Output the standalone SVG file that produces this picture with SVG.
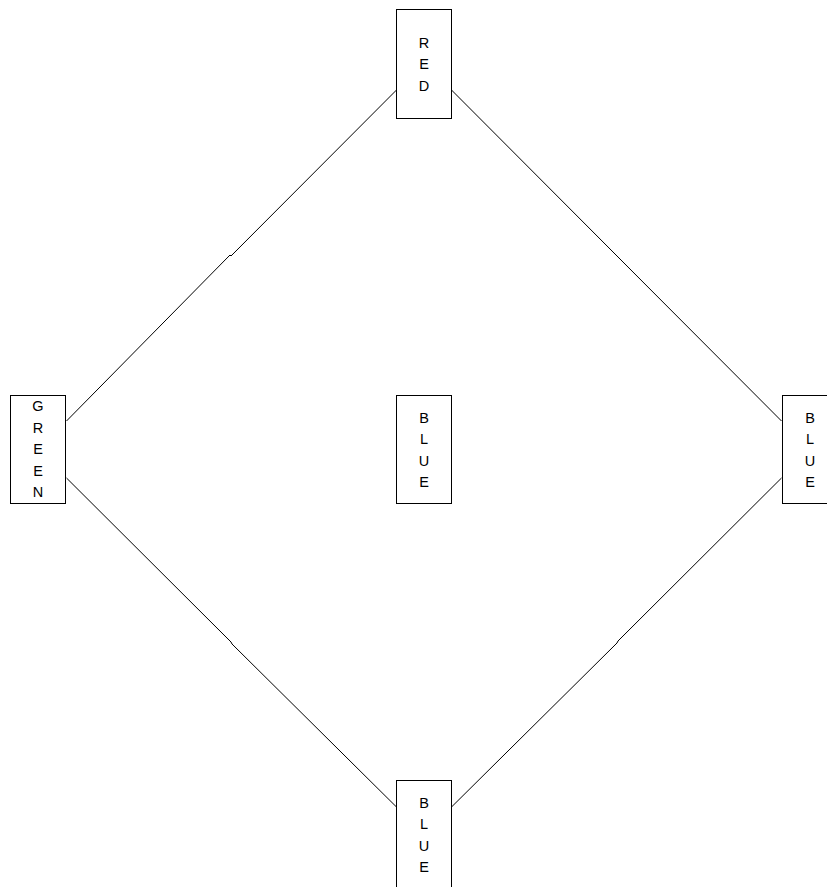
<svg xmlns="http://www.w3.org/2000/svg" width="827" height="887" viewBox="0 0 827 887">
<style>
.box{fill:#fff;stroke:#000;stroke-width:1}
.lbl{font-family:"Liberation Sans",Arial,sans-serif;font-size:14.5px;fill:#000;text-anchor:middle}
.edge{fill:none;stroke:#000;stroke-width:1}
</style>
<rect width="827" height="887" fill="#fff"/>
<g id="connectors">
<polyline class="edge" points="396.5,90 231,256 230,255 66.5,421"/>
<polyline class="edge" points="451.5,90 617,256 618,257 781.5,421"/>
<polyline class="edge" points="66.5,478 231,642 232,644 396.5,807"/>
<polyline class="edge" points="781.5,478 618,641 617,643 451.5,807"/>
</g>
<g id="red">
<rect class="box" x="396.5" y="9.5" width="55" height="109"/>
<text class="lbl" x="424" y="47.5">R</text>
<text class="lbl" x="424" y="69">E</text>
<text class="lbl" x="424" y="90.5">D</text>
</g>
<g id="green">
<rect class="box" x="10.5" y="395.5" width="55" height="108"/>
<text class="lbl" x="38" y="411">G</text>
<text class="lbl" x="38" y="432.5">R</text>
<text class="lbl" x="38" y="454">E</text>
<text class="lbl" x="38" y="475.5">E</text>
<text class="lbl" x="38" y="497">N</text>
</g>
<g id="blue-center">
<rect class="box" x="396.5" y="395.5" width="55" height="108"/>
<text class="lbl" x="424" y="422.5">B</text>
<text class="lbl" x="424" y="444">L</text>
<text class="lbl" x="424" y="465.5">U</text>
<text class="lbl" x="424" y="487">E</text>
</g>
<g id="blue-right">
<rect class="box" x="782.5" y="395.5" width="55" height="108"/>
<text class="lbl" x="810" y="422.5">B</text>
<text class="lbl" x="810" y="444">L</text>
<text class="lbl" x="810" y="465.5">U</text>
<text class="lbl" x="810" y="487">E</text>
</g>
<g id="blue-bottom">
<rect class="box" x="396.5" y="780.5" width="55" height="108"/>
<text class="lbl" x="424" y="807.5">B</text>
<text class="lbl" x="424" y="829">L</text>
<text class="lbl" x="424" y="850.5">U</text>
<text class="lbl" x="424" y="872">E</text>
</g>
</svg>
